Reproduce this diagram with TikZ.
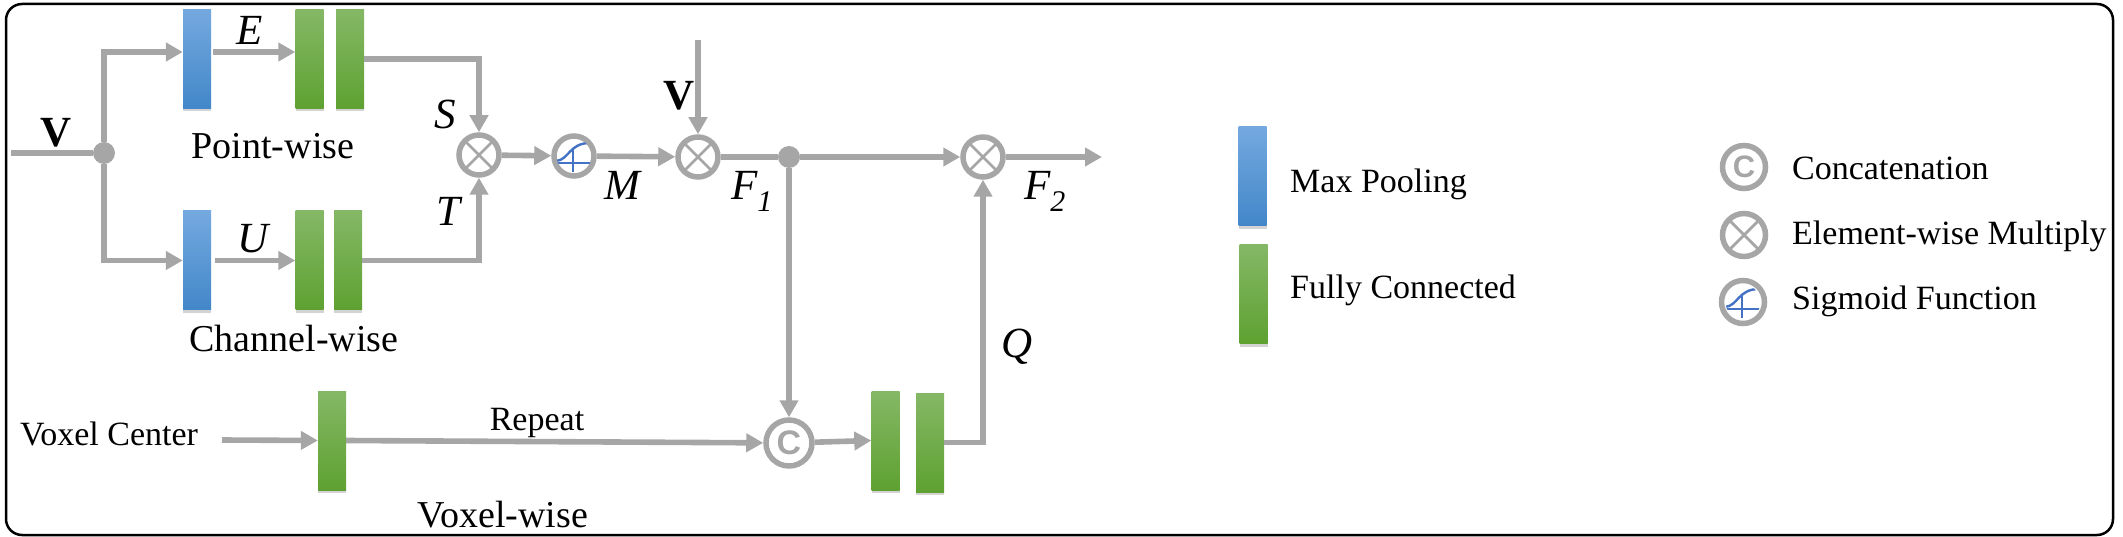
\documentclass[tikz,border=0pt]{standalone}
\usepackage{fontspec}
\setmainfont{Liberation Serif}
\newfontfamily\catfont{Liberation Sans}
\usetikzlibrary{arrows.meta,shadows}
\definecolor{lgray}{HTML}{A6A6A6}
\definecolor{bluetop}{HTML}{74A9DF}
\definecolor{bluebot}{HTML}{4287C9}
\definecolor{greentop}{HTML}{85B866}
\definecolor{greenbot}{HTML}{5EA131}
\definecolor{sigblue}{HTML}{4472C4}
\tikzset{
  conn/.style={draw=lgray, line width=5.6pt},
  arr/.style={conn, -{Triangle[length=17pt,width=18pt]}},
  blockbase/.style={rectangle, inner sep=0pt, minimum width=28pt, minimum height=99pt,
    drop shadow={shadow xshift=0pt, shadow yshift=-3pt, opacity=0.35}},
  poolbox/.style={blockbase, top color=bluetop, bottom color=bluebot},
  fcbox/.style={blockbase, top color=greentop, bottom color=greenbot},
  opcirc/.style={circle, draw=lgray, line width=5.5pt, minimum size=40pt, inner sep=0pt, fill=white},
  mulop/.style={opcirc, path picture={\draw[lgray, line width=2.8pt]
      (path picture bounding box.north west) -- (path picture bounding box.south east)
      (path picture bounding box.north east) -- (path picture bounding box.south west);}},
  catop/.style={opcirc, text=lgray, font=\catfont\bfseries\fontsize{34}{34}\selectfont},
  junction/.style={circle, fill=lgray, minimum size=22pt, inner sep=0pt},
  txt/.style={inner sep=0pt, font=\fontsize{34}{40}\selectfont},
  bigtxt/.style={inner sep=0pt, font=\fontsize{38}{44}\selectfont},
  mathl/.style={inner sep=0pt, font=\fontsize{43}{48}\selectfont\itshape},
  boldl/.style={inner sep=0pt, font=\fontsize{43}{48}\selectfont\bfseries},
}
\newcommand\sigmark[1]{%
  \begin{scope}[shift={(#1.center)}]
    \clip (0,0) circle (17.5);
    \draw[sigblue, line width=2.4pt] (-20,7) -- (20,7) (-1,-7) -- (-1,16);
    \draw[sigblue, line width=2.4pt] (-18,5) .. controls (-5,4) and (-5,-13) .. (16,-13);
  \end{scope}}
\begin{document}
\begin{tikzpicture}[x=1pt,y=-1pt]
\useasboundingbox (0,0) rectangle (2123,537);
\draw[line width=2.5pt, rounded corners=16pt] (6,4) rectangle (2113,535);

% input
\coordinate (inV) at (11,153);
\node[junction] (dotA) at (104,153) {};
\node[boldl, anchor=base] (lV1) at (56,147) {V};

% point-wise branch
\node[poolbox] (bp1) at (197,59) {};
\node[fcbox] (fa1) at (309.5,59) {};
\node[fcbox] (fa2) at (350,59) {};
\node[mathl, anchor=base] (lE) at (250,45) {E};
\node[bigtxt, anchor=base] (lpw) at (273,159) {Point-wise};

% channel-wise branch
\node[poolbox] (bp2) at (197,260.5) {};
\node[fcbox] (fb1) at (309.5,260.5) {};
\node[fcbox] (fb2) at (348,260.5) {};
\node[mathl, anchor=base] (lU) at (253,253) {U};
\node[bigtxt, anchor=base] (lcw) at (294,352) {Channel-wise};

% main line
\node[mulop] (mul1) at (479,155) {};
\node[opcirc] (sig) at (574,156) {};
\sigmark{sig}
\node[mulop] (mul2) at (698,157) {};
\node[junction] (dotB) at (789,157) {};
\node[mulop] (mul3) at (983,157) {};
\coordinate (outF) at (1102,157);
\coordinate (topV) at (698,40);

\node[mathl, anchor=base] (lS) at (445,129) {S};
\node[mathl, anchor=base] (lT) at (448,226) {T};
\node[mathl, anchor=base] (lM) at (622,200) {M};
\node[boldl, anchor=base] (lV2) at (679,110) {V};
\node[mathl, anchor=base west] (lF1) at (731,200) {F\raisebox{-12pt}{\fontsize{30}{30}\selectfont 1}};
\node[mathl, anchor=base west] (lF2) at (1024,200) {F\raisebox{-12pt}{\fontsize{30}{30}\selectfont 2}};
\node[mathl, anchor=base] (lQ) at (1017,357) {Q};

% voxel-wise
\node[txt, anchor=base west] (lvc) at (20,445) {Voxel Center};
\coordinate (vcs) at (222,440);
\node[fcbox] (fc) at (332,440.5) {};
\node[txt, anchor=base] (lrep) at (537,430) {Repeat};
\node[bigtxt, anchor=base] (lvw) at (503,527) {Voxel-wise};
\node[catop, minimum size=46pt] (cat) at (789,443) {C};
\node[fcbox] (fd1) at (885.5,440.5) {};
\node[fcbox] (fd2) at (930,442.5) {};

% connectors
\draw[conn] (inV) -- (dotA);
\draw[arr] (dotA) |- ([yshift=7pt]bp1.west);
\draw[arr, shorten <=2pt] ([yshift=7pt]bp1.east) -- ([yshift=7pt]fa1.west);
\draw[arr] (fa2.east) -| (mul1);
\draw[arr] (dotA) |- (bp2.west);
\draw[arr, shorten <=4pt] (bp2.east) -- (fb1.west);
\draw[arr] (fb2.east) -| (mul1);
\draw[arr] (mul1) -- (sig);
\draw[arr] (sig) -- (mul2);
\draw[arr] (topV) -- (mul2);
\draw[conn] (mul2) -- (dotB);
\draw[arr] (dotB) -- (mul3);
\draw[arr] (mul3) -- (outF);
\draw[arr] (dotB) -- (cat);
\draw[arr] (vcs) -- (fc.west);
\draw[arr] (fc.east) -- (cat);
\draw[arr] (cat) -- (fd1.west);
\draw[arr] (fd2.east) -| (mul3);

% legend
\node[poolbox] (lgp) at (1252.5,176.5) {};
\node[fcbox] (lgf) at (1253.5,294) {};
\node[txt, anchor=base west] (lgpt) at (1290,193) {Max Pooling};
\node[txt, anchor=base west] (lgft) at (1290,299) {Fully Connected};
\node[catop, minimum size=43pt, font=\catfont\bfseries\fontsize{31}{31}\selectfont] (lgc) at (1744,167) {C};
\node[mulop, minimum size=43pt] (lgm) at (1744,235) {};
\node[opcirc, minimum size=43pt] (lgs) at (1743,302) {};
\sigmark{lgs}
\node[txt, anchor=base west] (lgct) at (1792,180) {Concatenation};
\node[txt, anchor=base west] (lgmt) at (1792,245) {Element-wise Multiply};
\node[txt, anchor=base west] (lgst) at (1792,310) {Sigmoid Function};
\end{tikzpicture}
\end{document}
